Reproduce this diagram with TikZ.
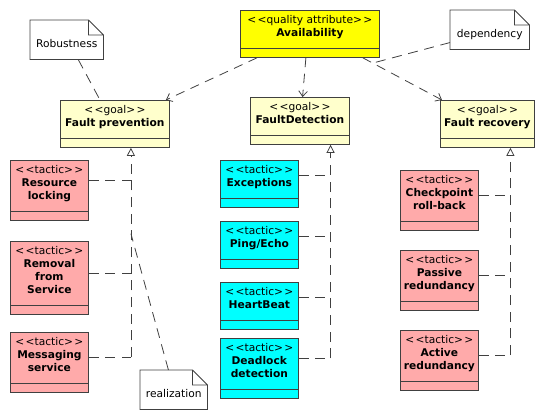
\documentclass[tikz,border=0pt]{standalone}
\usepackage{fontspec}
\setmainfont{DejaVu Sans}
\usepackage{xcolor}
\usetikzlibrary{arrows.meta, positioning}

\definecolor{qualyellow}{RGB}{255,255,0}
\definecolor{goalyellow}{RGB}{255,255,204}
\definecolor{tacticred}{RGB}{255,170,170}
\definecolor{tacticcyan}{RGB}{0,255,255}
\definecolor{umlline}{RGB}{64,64,64}

\newcommand{\stype}[1]{\rule{0pt}{6.5pt}<\kern1pt<#1>\kern1pt>}
\newcommand{\lastline}[1]{\textbf{#1}\rule[-12.25pt]{0pt}{0pt}}

\begin{document}
\begin{tikzpicture}[
    x=0.75pt, y=-0.75pt,
    font=\fontsize{8pt}{9.75pt}\selectfont,
    umlclass/.style={rectangle, draw=umlline, line width=0.6pt, fill=#1,
        inner xsep=2pt, inner ysep=3.375pt, align=center, anchor=north west,
        path picture={\draw[umlline, line width=0.6pt]
            ([yshift=6.75pt]path picture bounding box.south west) --
            ([yshift=6.75pt]path picture bounding box.south east);}},
    tactic/.style={umlclass=#1, text width=54.5pt},
    umlnote/.style={rectangle, fill=white, minimum width=#1, minimum height=29.25pt,
        inner sep=0pt, text height=11pt, text depth=0pt, anchor=north west},
    noteline/.style={draw=umlline, line width=0.6pt},
    depend/.style={draw=umlline, line width=0.6pt, dash pattern=on 7pt off 5pt,
        -{Straight Barb[length=4pt, width=6.5pt]}},
    realize/.style={draw=umlline, line width=0.6pt, dash pattern=on 7.5pt off 5pt},
    notelink/.style={draw=umlline, line width=0.6pt, dash pattern=on 7.5pt off 5pt},
]
    \useasboundingbox (0,0) rectangle (544,419);

    % quality attribute and goals
    \node[umlclass=qualyellow, text width=100.25pt] (avail) at (240,10) {\stype{quality attribute}\\\lastline{Availability}};
    \node[umlclass=goalyellow, text width=77.75pt] (prev) at (60,100) {\stype{goal}\\\lastline{Fault prevention}};
    \node[umlclass=goalyellow, text width=70.25pt] (detect) at (250,97) {\stype{goal}\\\lastline{FaultDetection}};
    \node[umlclass=goalyellow, text width=66.5pt] (recov) at (440,100) {\stype{goal}\\\lastline{Fault recovery}};

    % tactics
    \node[tactic=tacticred] (lock) at (10,160) {\stype{tactic}\\\textbf{Resource}\\\lastline{locking}};
    \node[tactic=tacticred, below=15pt of lock.south west, anchor=north west] (removal) {\stype{tactic}\\\textbf{Removal}\\\textbf{from}\\\lastline{Service}};
    \node[tactic=tacticred, below=12.75pt of removal.south west, anchor=north west] (msg) {\stype{tactic}\\\textbf{Messaging}\\\lastline{service}};

    \node[tactic=tacticcyan] (exc) at (220,160) {\stype{tactic}\\\lastline{Exceptions}};
    \node[tactic=tacticcyan, below=9.75pt of exc.south west, anchor=north west] (ping) {\stype{tactic}\\\lastline{Ping/Echo}};
    \node[tactic=tacticcyan, below=9.75pt of ping.south west, anchor=north west] (heart) {\stype{tactic}\\\lastline{HeartBeat}};
    \node[tactic=tacticcyan, below=6.75pt of heart.south west, anchor=north west] (dead) {\stype{tactic}\\\textbf{Deadlock}\\\lastline{detection}};

    \node[tactic=tacticred] (check) at (400,170) {\stype{tactic}\\\textbf{Checkpoint}\\\lastline{roll-back}};
    \node[tactic=tacticred, below=14.25pt of check.south west, anchor=north west] (passive) {\stype{tactic}\\\textbf{Passive}\\\lastline{redundancy}};
    \node[tactic=tacticred, below=14.25pt of passive.south west, anchor=north west] (active) {\stype{tactic}\\\textbf{Active}\\\lastline{redundancy}};

    % notes
    \node[umlnote=54.75pt] (robust) at (30,20) {Robustness};
    \node[umlnote=59.25pt] (depnote) at (450,10) {dependency};
    \node[umlnote=50.25pt] (realnote) at (140,370) {realization};
    \foreach \n in {robust,depnote,realnote}
        \draw[noteline] (\n.south west) -- (\n.north west) -- ([xshift=-11.25pt]\n.north east)
            -- ([yshift=-11.25pt]\n.north east) -- (\n.south east) -- cycle
            ([xshift=-11.25pt]\n.north east) |- ([yshift=-11.25pt]\n.north east);

    % dependencies
    \draw[depend] ([xshift=12.75pt]avail.south west) -- ([xshift=-3pt]prev.north east);
    \draw[depend] ([xshift=-3pt]avail.south) -- ([xshift=2pt]detect.north);
    \draw[depend] ([xshift=-12.75pt]avail.south east) -- coordinate[pos=0.125] (depjoin) ([xshift=1.5pt]recov.north west);

    % realizations
    \coordinate (pvtop) at ([xshift=12pt]prev.south);
    \coordinate (dttop) at ([xshift=23pt]detect.south);
    \coordinate (rctop) at ([xshift=17.25pt]recov.south);
    \foreach \t/\dy in {lock/7.5pt,removal/3.4pt,msg/3.75pt}
        \draw[realize] ([yshift=\dy]\t.east) -- ([yshift=\dy]\t.east -| pvtop);
    \foreach \t/\dy in {exc/6.4pt,ping/6.4pt,heart/6.4pt,dead/7.9pt}
        \draw[realize] ([yshift=\dy]\t.east) -- ([yshift=\dy]\t.east -| dttop);
    \foreach \t/\dy in {check/4.1pt,passive/3.4pt,active/3.75pt}
        \draw[realize] ([yshift=\dy]\t.east) -- ([yshift=\dy]\t.east -| rctop);
    \draw[realize, -{Triangle[open, length=6pt, width=6pt]}] ([yshift=3.75pt]msg.east -| pvtop) -- coordinate[pos=0.59] (realjoin) (pvtop);
    \draw[realize, -{Triangle[open, length=6pt, width=6pt]}] ([yshift=7.9pt]dead.east -| dttop) -- (dttop);
    \draw[realize, -{Triangle[open, length=6pt, width=6pt]}] ([yshift=3.75pt]active.east -| rctop) -- (rctop);

    % note links
    \draw[notelink] ([xshift=8.6pt]robust.south) -- ([xshift=30pt]prev.north west);
    \draw[notelink] ([yshift=5.25pt]depnote.south west) -- (depjoin);
    \draw[notelink] ([xshift=-4pt]realnote.north) -- (realjoin);
\end{tikzpicture}
\end{document}
